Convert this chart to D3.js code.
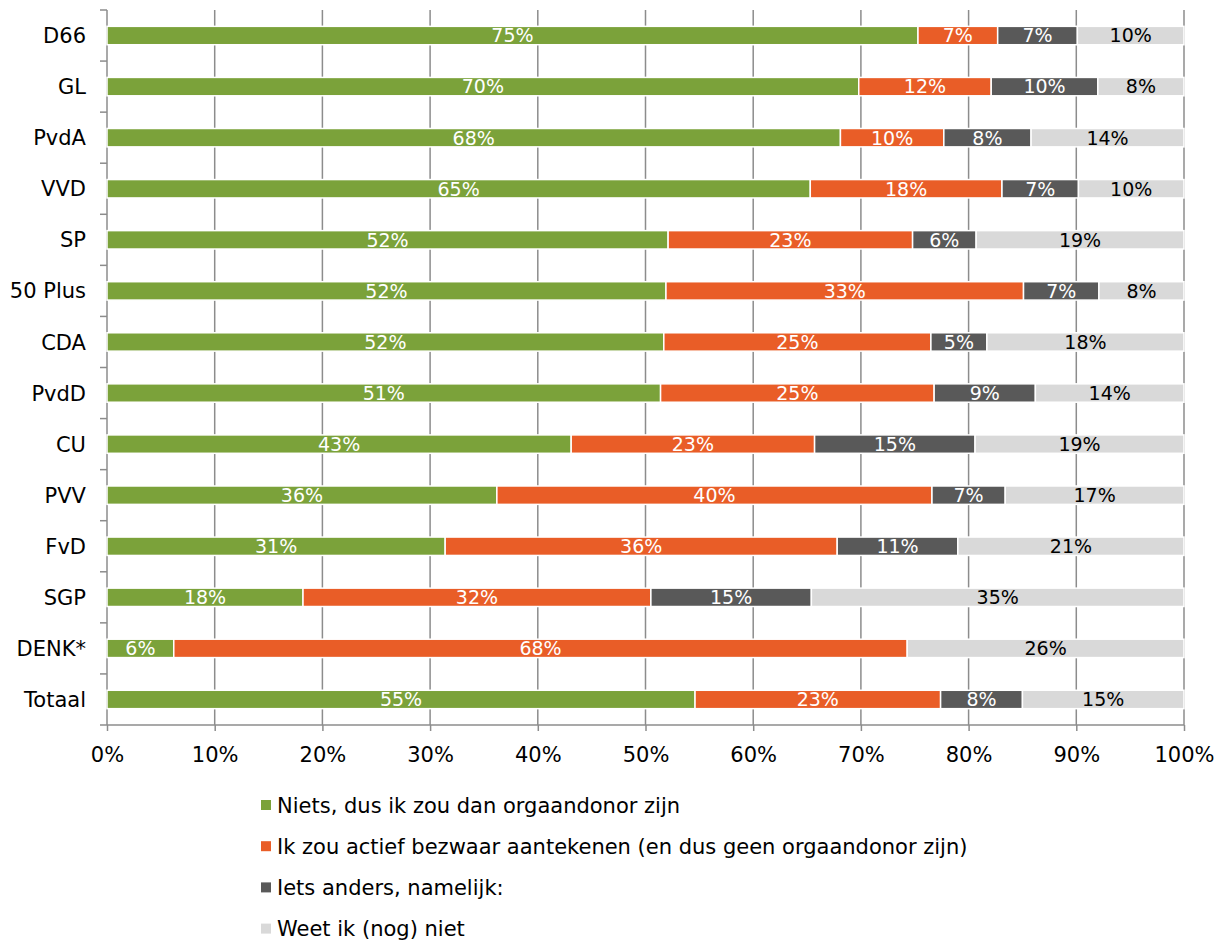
<!DOCTYPE html>
<html lang="nl">
<head>
  <meta charset="UTF-8">
  <title>Orgaandonor per partij</title>
<script src="https://d3js.org/d3.v7.min.js"></script>
<style>
  body { margin: 0; background: #fff; }
  text { font-family: Verdana, "DejaVu Sans", sans-serif; }
</style>
</head>
<body>
<div id="chart"></div>

  <script>

const categories = ['D66', 'GL', 'PvdA', 'VVD', 'SP', '50 Plus', 'CDA', 'PvdD', 'CU', 'PVV', 'FvD', 'SGP', 'DENK*', 'Totaal'];

// percentages per party
const niets    = [75.3, 69.8, 68.1, 65.3, 52.1, 51.9, 51.7, 51.4, 43.1, 36.2, 31.4, 18.2, 6.2, 54.6];
const bezwaar  = [7.4, 12.3, 9.6, 17.8, 22.7, 33.2, 24.8, 25.4, 22.6, 40.4, 36.4, 32.3, 68.1, 22.8];
const anders   = [7.4, 9.9, 8.1, 7.1, 5.9, 7.0, 5.2, 9.4, 14.9, 6.8, 11.2, 14.9, 0, 7.6];
const weetNiet = [9.9, 8.0, 14.2, 9.8, 19.3, 7.9, 18.3, 13.8, 19.4, 16.6, 21.0, 34.6, 25.7, 15.0];

const seriesNames = [
  'Niets, dus ik zou dan orgaandonor zijn',
  'Ik zou actief bezwaar aantekenen (en dus geen orgaandonor zijn)',
  'Iets anders, namelijk:',
  'Weet ik (nog) niet'
];
const xTicks = [0, 10, 20, 30, 40, 50, 60, 70, 80, 90, 100];

const colors = ['#7BA23A', '#E95D27', '#595959', '#D9D9D9'];
const labelColors = ['#fff', '#fff', '#fff', '#000'];

const width = 1225;
const height = 943;
const keys = ['niets', 'bezwaar', 'anders', 'weetNiet'];

const rows = categories.map((c, i) => ({
  cat: c, niets: niets[i], bezwaar: bezwaar[i], anders: anders[i], weetNiet: weetNiet[i]
}));

const svg = d3.select('#chart')
  .append('svg')
  .attr('width', width)
  .attr('height', height);

const x = d3.scaleLinear().domain([0, 100]).range([107, 1184]);
const y = d3.scaleBand().domain(categories).range([10, 725])
  .paddingInner(0.64).paddingOuter(0.32);

// gridlines
svg.append('g')
  .selectAll('line')
  .data(xTicks.slice(1))
  .enter()
  .append('line')
  .attr('x1', d => x(d)).attr('x2', d => x(d))
  .attr('y1', 10).attr('y2', 725)
  .attr('stroke', '#8c8c8c')
  .attr('stroke-width', 1.5);

// x axis
const xAxis = svg.append('g')
  .attr('transform', 'translate(0,725)')
  .call(d3.axisBottom(x).tickValues(xTicks).tickSize(6).tickPadding(16).tickFormat(d => d + '%'));
xAxis.selectAll('path, line').attr('stroke', '#8c8c8c').attr('stroke-width', 1.5);
xAxis.select('.domain').attr('d', 'M107,0H1184');
xAxis.selectAll('text').attr('font-size', 21).attr('fill', '#000')
  .style('font-family', 'Verdana, "DejaVu Sans", sans-serif');

// y axis line and ticks at band edges
const step = y.step();
svg.append('line')
  .attr('x1', 107).attr('x2', 107).attr('y1', 10).attr('y2', 725)
  .attr('stroke', '#8c8c8c').attr('stroke-width', 1.5);
svg.append('g')
  .selectAll('line')
  .data(d3.range(categories.length + 1))
  .enter()
  .append('line')
  .attr('x1', 100).attr('x2', 107)
  .attr('y1', i => 10 + i * step).attr('y2', i => 10 + i * step)
  .attr('stroke', '#8c8c8c').attr('stroke-width', 1.5);

svg.append('g')
  .selectAll('text')
  .data(categories)
  .enter()
  .append('text')
  .attr('x', 86)
  .attr('y', d => y(d) + y.bandwidth() / 2)
  .attr('dy', '0.36em')
  .attr('text-anchor', 'end')
  .attr('font-size', 21)
  .attr('fill', '#000')
  .text(d => d);

// stacked bars
const stacked = d3.stack().keys(keys)(rows);

const layer = svg.append('g')
  .selectAll('g')
  .data(stacked)
  .enter()
  .append('g')
  .attr('fill', (d, i) => colors[i]);

layer.selectAll('rect')
  .data(d => d)
  .enter()
  .filter(d => d[1] - d[0] > 0)
  .append('rect')
  .attr('x', d => x(d[0]))
  .attr('y', d => y(d.data.cat))
  .attr('width', d => x(d[1]) - x(d[0]))
  .attr('height', y.bandwidth())
  .attr('stroke', '#fff')
  .attr('stroke-width', 1.5);

// value labels
stacked.forEach((s, si) => {
  svg.append('g')
    .selectAll('text')
    .data(s.filter(d => d[1] - d[0] > 0))
    .enter()
    .append('text')
    .attr('x', d => (x(d[0]) + x(d[1])) / 2)
    .attr('y', d => y(d.data.cat) + y.bandwidth() / 2)
    .attr('dy', '0.36em')
    .attr('text-anchor', 'middle')
    .attr('font-size', 19)
    .attr('fill', labelColors[si])
    .text(d => Math.round(d[1] - d[0]) + '%');
});

// legend
const legend = svg.append('g')
  .selectAll('g')
  .data(seriesNames)
  .enter()
  .append('g')
  .attr('transform', (d, i) => `translate(261, ${805 + i * 41.2})`);

legend.append('rect')
  .attr('x', 0).attr('y', -5)
  .attr('width', 10).attr('height', 10)
  .attr('fill', (d, i) => colors[i]);

legend.append('text')
  .attr('x', 16)
  .attr('dy', '0.36em')
  .attr('font-size', 21)
  .attr('fill', '#000')
  .text(d => d);

  </script>
</body>
</html>
